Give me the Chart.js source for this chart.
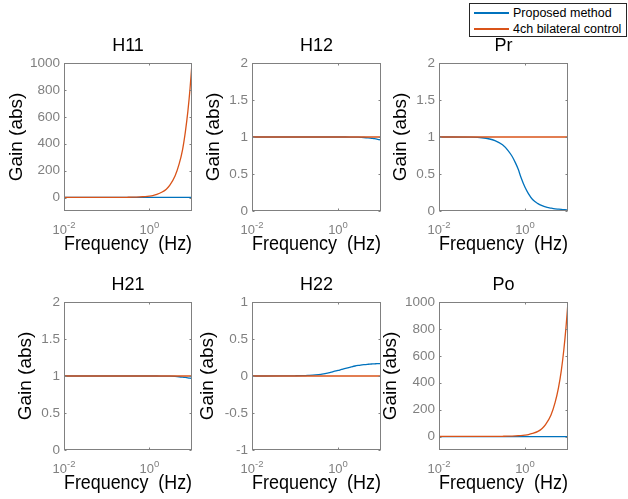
<!DOCTYPE html>
<html>
<head>
<meta charset="utf-8">
<script src="https://cdn.jsdelivr.net/npm/chart.js@4.4.0/dist/chart.umd.min.js"></script>
<style>
  html, body { margin: 0; padding: 0; background: #fff; }
  body { width: 628px; height: 499px; position: relative; overflow: hidden; font-family: 'Liberation Sans', Arial, sans-serif; }
  canvas { position: absolute; }
  #legend { position: absolute; left: 469px; top: 3px; width: 156px; height: 32px; border: 1px solid #262626; background: #fff; font-size: 12.5px; color: #000; }
  #legend .item { position: absolute; left: 0; width: 156px; height: 14px; }
  #legend .swatch { position: absolute; left: 4px; top: 6px; width: 35px; height: 2px; display: block; }
  #legend .text { position: absolute; left: 43px; top: 0; line-height: 14px; white-space: nowrap; }
</style>
</head>
<body>
<div id="legend"></div>
<script>
// frequency points (Hz), shared by every panel
var freq = [0.01, 0.02, 0.05, 0.1, 0.15, 0.2, 0.3, 0.4, 0.5, 0.6, 0.7, 0.8, 1, 1.2, 1.5, 2, 2.5, 3, 4, 5, 6, 7, 8, 9, 10];

var xTickValues = [0.01, 1];
var xTickBase = '10';
var xTickExp = ['-2', '0'];
var bigTicks = [0, 200, 400, 600, 800, 1000];
var unitTicks = [0, 0.5, 1, 1.5, 2];
var signedTicks = [-1, -0.5, 0, 0.5, 1];

var seriesNames = ['Proposed method', '4ch bilateral control'];

var h11Proposed = [1, 1, 1, 1, 1, 1, 1, 1, 1, 1, 1, 1, 1, 1, 1, 1, 1, 1, 1, 1, 1, 1, 1, 1, 1];
var h11Bilateral = [1, 1, 1, 1.1, 1.2, 1.4, 2, 2.6, 3.5, 4.6, 6, 7.4, 11, 15, 23, 41, 62, 90, 160, 250, 355, 490, 640, 810, 1000];

var h12Proposed = [1, 1, 1, 1, 1, 1, 1, 1, 1, 1, 1, 1, 1, 1, 1, 0.999, 0.998, 0.997, 0.993, 0.988, 0.982, 0.977, 0.971, 0.966, 0.96];
var h12Bilateral = [1, 1, 1, 1, 1, 1, 1, 1, 1, 1, 1, 1, 1, 1, 1, 1, 1, 1, 1, 1, 1, 1, 1, 1, 1];

var prProposed = [1, 1, 0.998, 0.99, 0.973, 0.95, 0.895, 0.82, 0.74, 0.65, 0.56, 0.46, 0.32, 0.235, 0.155, 0.1, 0.072, 0.055, 0.04, 0.03, 0.025, 0.021, 0.018, 0.016, 0.014];
var prBilateral = [1, 1, 1, 1, 1, 1, 1, 1, 1, 1, 1, 1, 1, 1, 1, 1, 1, 1, 1, 1, 1, 1, 1, 1, 1];

var h21Proposed = [1, 1, 1, 1, 1, 1, 1, 1, 1, 1, 1, 1, 1, 1, 1, 0.999, 0.998, 0.997, 0.994, 0.99, 0.985, 0.98, 0.975, 0.97, 0.965];
var h21Bilateral = [1, 1, 1, 1, 1, 1, 1, 1, 1, 1, 1, 1, 1, 1, 1, 1, 1, 1, 1, 1, 1, 1, 1, 1, 1];

var h22Proposed = [0, 0, 0.001, 0.003, 0.005, 0.008, 0.014, 0.022, 0.033, 0.042, 0.052, 0.062, 0.075, 0.088, 0.104, 0.122, 0.135, 0.143, 0.154, 0.159, 0.162, 0.165, 0.166, 0.167, 0.168];
var h22Bilateral = [0, 0, 0, 0, 0, 0, 0, 0, 0, 0, 0, 0, 0, 0, 0, 0, 0, 0, 0, 0, 0, 0, 0, 0, 0];

var poProposed = [0, 0, 0, 0, 0, 0, 0, 0, 0, 0, 0, 0, 0, 0, 0, 0, 0, 0, 0, 0, 0, 0, 0, 0, 0];
var poBilateral = [1, 1, 1, 1.1, 1.2, 1.4, 2, 2.6, 3.5, 4.6, 6, 7.4, 11, 15, 23, 38, 60, 88, 158, 252, 362, 492, 645, 815, 1000];

var blue = '#0072BD';
var orange = '#D95319';
var seriesColors = [blue, orange];
var axisGrey = '#808080';
var fontFamily = "'Liberation Sans', Arial, sans-serif";

Chart.defaults.font.family = fontFamily;

// panel layout: plot box left/top/width/height in page pixels
var panels = [
  {title: 'H11', left: 64, top: 63, w: 128, h: 148, yMin: -100, yMax: 1000, yTicks: bigTicks, gap: 5.5, a: h11Proposed, b: h11Bilateral},
  {title: 'H12', left: 252, top: 63, w: 129, h: 148, yMin: 0, yMax: 2, yTicks: unitTicks, gap: 15, a: h12Proposed, b: h12Bilateral},
  {title: 'Pr', left: 439, top: 63, w: 129, h: 148, yMin: 0, yMax: 2, yTicks: unitTicks, gap: 14.5, a: prProposed, b: prBilateral},
  {title: 'H21', left: 64, top: 302, w: 128, h: 148, yMin: 0, yMax: 2, yTicks: unitTicks, gap: 15, a: h21Proposed, b: h21Bilateral},
  {title: 'H22', left: 252, top: 302, w: 129, h: 148, yMin: -1, yMax: 1, yTicks: signedTicks, gap: 8.5, a: h22Proposed, b: h22Bilateral},
  {title: 'Po', left: 439, top: 302, w: 129, h: 148, yMin: -100, yMax: 1000, yTicks: bigTicks, gap: 4.5, a: poProposed, b: poBilateral}
];

var Y_W = 64, TOP_H = 32, X_H = 46, PAD_R = 6;

// box round the plot with inward tick marks, plus 10^n labels with a raised exponent
var framePlugin = {
  id: 'frame',
  afterDraw: function (chart) {
    var ctx = chart.ctx, a = chart.chartArea;
    var x = chart.scales.x, y = chart.scales.y;
    var l = Math.round(a.left) + 0.5, r = Math.round(a.right) - 0.5;
    var t = Math.round(a.top) + 0.5, b = Math.round(a.bottom) - 0.5;
    ctx.save();
    ctx.strokeStyle = axisGrey;
    ctx.lineWidth = 1;
    ctx.strokeRect(l, t, r - l, b - t);
    ctx.beginPath();
    for (let tk of x.ticks) {
      var px = Math.round(x.getPixelForValue(tk.value)) + 0.5;
      ctx.moveTo(px, b); ctx.lineTo(px, b - 2);
      ctx.moveTo(px, t); ctx.lineTo(px, t + 2);
    }
    for (let tk of y.ticks) {
      var py = Math.round(y.getPixelForValue(tk.value)) + 0.5;
      ctx.moveTo(l, py); ctx.lineTo(l + 2, py);
      ctx.moveTo(r, py); ctx.lineTo(r - 2, py);
    }
    ctx.stroke();

    ctx.fillStyle = axisGrey;
    ctx.textBaseline = 'alphabetic';
    ctx.textAlign = 'left';
    x.ticks.forEach(function (tk) {
      var i = xTickValues.indexOf(tk.value);
      if (i < 0) return;
      ctx.font = '13px ' + fontFamily;
      var wBase = ctx.measureText(xTickBase).width;
      ctx.font = '9.5px ' + fontFamily;
      var wExp = ctx.measureText(xTickExp[i]).width;
      var cx = x.getPixelForValue(tk.value);
      var x0 = cx - (wBase + wExp) / 2;
      ctx.font = '13px ' + fontFamily;
      ctx.fillText(xTickBase, x0, a.bottom + 22.5);
      ctx.font = '9.5px ' + fontFamily;
      ctx.fillText(xTickExp[i], x0 + wBase, a.bottom + 16.5);
    });
    ctx.restore();
  }
};

var charts = [];

for (let p of panels) {
  var canvas = document.createElement('canvas');
  canvas.width = Y_W + p.w + PAD_R;
  canvas.height = TOP_H + p.h + X_H;
  canvas.style.left = (p.left - Y_W) + 'px';
  canvas.style.top = (p.top - TOP_H) + 'px';
  document.body.appendChild(canvas);

  charts.push(new Chart(canvas, {
    type: 'line',
    data: {
      labels: freq,
      datasets: [{
        label: seriesNames[0],
        data: p.a,
        borderColor: seriesColors[0],
        order: 1
      }, {
        label: seriesNames[1],
        data: p.b,
        borderColor: seriesColors[1],
        order: 0
      }]
    },
    options: {
      responsive: false,
      animation: false,
      events: [],
      layout: {padding: {left: 0, right: PAD_R, top: 0, bottom: 0}},
      elements: {
        point: {radius: 0},
        line: {borderWidth: 1.3, cubicInterpolationMode: 'monotone', fill: false}
      },
      plugins: {
        legend: {display: false},
        tooltip: {enabled: false},
        title: {
          display: true,
          text: p.title,
          color: '#000',
          fullSize: false,
          font: {size: 18, weight: 'normal', lineHeight: '22px'},
          padding: {top: 4, bottom: 6}
        }
      },
      scales: {
        x: {
          type: 'logarithmic',
          min: 0.01,
          max: 10,
          grid: {display: false, drawTicks: false},
          border: {display: false},
          afterBuildTicks: function (s) {
            s.ticks = xTickValues.map(function (v) { return {value: v, major: false}; });
          },
          afterFit: function (s) { s.height = X_H; },
          ticks: {display: false, autoSkip: false, maxRotation: 0},
          title: {
            display: true,
            text: 'Frequency  (Hz)',
            color: '#000',
            font: {size: 20, lineHeight: '22px'},
            padding: {top: 0, bottom: 2}
          }
        },
        y: {
          type: 'linear',
          min: p.yMin,
          max: p.yMax,
          grid: {display: false, drawTicks: false},
          border: {display: false},
          afterBuildTicks: function (s) {
            s.ticks = p.yTicks.map(function (v) { return {value: v}; });
          },
          afterFit: function (s) { s.width = Y_W; },
          ticks: {
            padding: 4,
            color: axisGrey,
            font: {size: 13.5},
            callback: function (v) { return String(v); }
          },
          title: {
            display: true,
            text: 'Gain (abs)',
            color: '#000',
            font: {size: 19, lineHeight: '22px'},
            padding: {top: p.gap, bottom: 0}
          }
        }
      }
    },
    plugins: [framePlugin]
  }));
}

// legend built from the series names and colours
var legend = document.getElementById('legend');
seriesNames.forEach(function (name, i) {
  var item = document.createElement('div');
  item.className = 'item';
  item.style.top = (2 + i * 16) + 'px';
  var sw = document.createElement('div');
  sw.className = 'swatch';
  sw.style.backgroundColor = seriesColors[i];
  var tx = document.createElement('span');
  tx.className = 'text';
  tx.textContent = name;
  item.appendChild(sw);
  item.appendChild(tx);
  legend.appendChild(item);
});
</script>
</body>
</html>
